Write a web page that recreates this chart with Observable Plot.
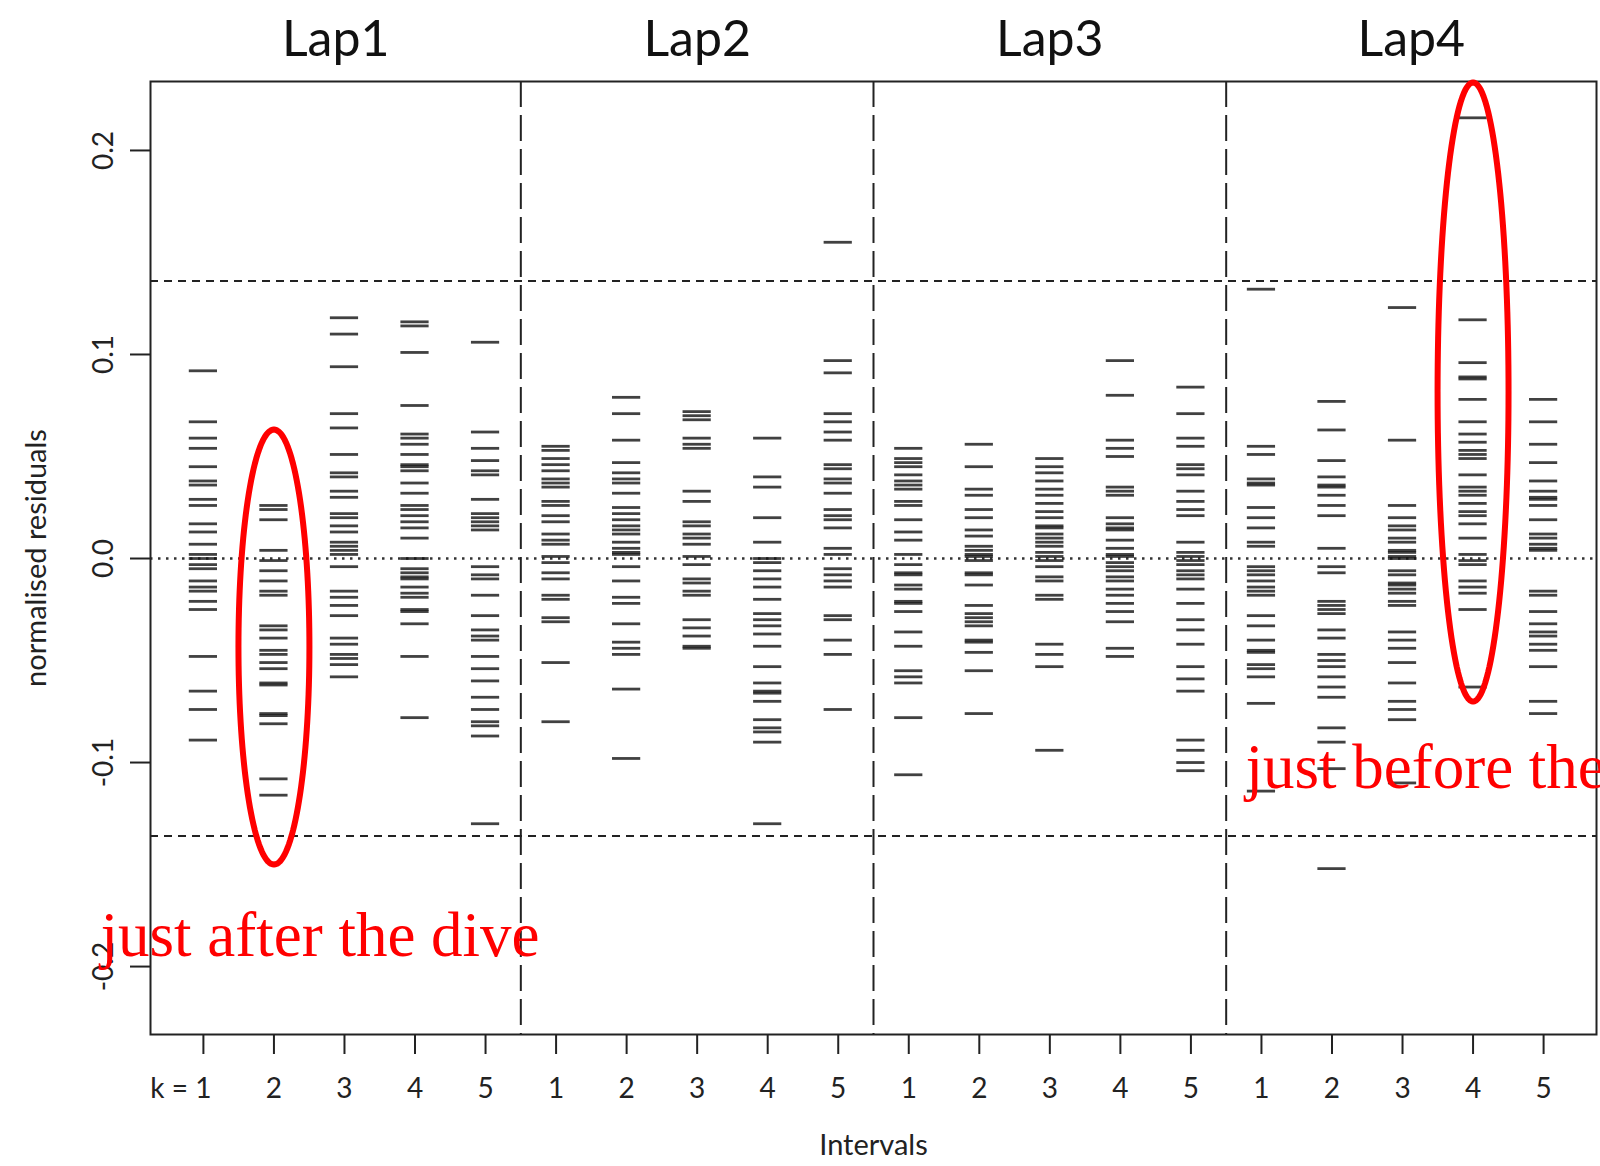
<!DOCTYPE html>
<html><head><meta charset="utf-8">
<script src="https://cdn.jsdelivr.net/npm/d3@7"></script>
<script src="https://cdn.jsdelivr.net/npm/@observablehq/plot@0.6"></script>
<style>html,body{margin:0;padding:0;background:#fff;overflow:hidden}</style>
</head><body><div id="chart"></div><script>
// normalised residuals per lap / interval k
const L1k1 = [0.092, 0.067, 0.059, 0.054, 0.045, 0.038, 0.036, 0.029, 0.026, 0.017, 0.013, 0.007, 0.002, 0.000, -0.003, -0.005, -0.011, -0.014, -0.016, -0.021, -0.025, -0.048, -0.065, -0.074, -0.089];
const L1k2 = [0.026, 0.024, 0.019, 0.004, -0.001, -0.006, -0.011, -0.016, -0.018, -0.033, -0.035, -0.039, -0.045, -0.047, -0.051, -0.054, -0.061, -0.062, -0.076, -0.077, -0.081, -0.108, -0.116];
const L1k3 = [0.118, 0.110, 0.094, 0.071, 0.064, 0.051, 0.042, 0.040, 0.033, 0.030, 0.022, 0.020, 0.016, 0.013, 0.008, 0.006, 0.004, 0.002, -0.004, -0.016, -0.019, -0.023, -0.028, -0.039, -0.042, -0.047, -0.049, -0.052, -0.058];
const L1k4 = [0.116, 0.114, 0.101, 0.075, 0.061, 0.059, 0.056, 0.051, 0.046, 0.045, 0.043, 0.037, 0.032, 0.026, 0.024, 0.021, 0.018, 0.015, 0.010, 0.000, -0.005, -0.007, -0.009, -0.010, -0.014, -0.017, -0.019, -0.025, -0.026, -0.032, -0.048, -0.078];
const L1k5 = [0.106, 0.062, 0.054, 0.048, 0.043, 0.041, 0.029, 0.022, 0.020, 0.018, 0.016, 0.014, -0.004, -0.008, -0.010, -0.018, -0.028, -0.035, -0.038, -0.040, -0.048, -0.054, -0.060, -0.068, -0.074, -0.080, -0.082, -0.087, -0.130];
const L2k1 = [0.055, 0.053, 0.049, 0.046, 0.043, 0.039, 0.037, 0.035, 0.028, 0.026, 0.021, 0.018, 0.012, 0.009, 0.007, 0.001, -0.002, -0.007, -0.010, -0.018, -0.020, -0.029, -0.031, -0.051, -0.080];
const L2k2 = [0.079, 0.071, 0.058, 0.047, 0.042, 0.039, 0.037, 0.032, 0.025, 0.022, 0.019, 0.016, 0.014, 0.012, 0.008, 0.005, 0.003, 0.002, -0.004, -0.011, -0.019, -0.022, -0.032, -0.041, -0.044, -0.047, -0.064, -0.098];
const L2k3 = [0.072, 0.070, 0.068, 0.059, 0.056, 0.054, 0.033, 0.028, 0.018, 0.016, 0.012, 0.010, 0.007, 0.001, -0.003, -0.010, -0.012, -0.016, -0.018, -0.030, -0.034, -0.038, -0.043, -0.044];
const L2k4 = [0.059, 0.040, 0.035, 0.020, 0.008, 0.000, -0.002, -0.006, -0.010, -0.014, -0.020, -0.027, -0.030, -0.033, -0.037, -0.043, -0.053, -0.061, -0.065, -0.066, -0.070, -0.079, -0.083, -0.085, -0.090, -0.130];
const L2k5 = [0.155, 0.097, 0.091, 0.071, 0.067, 0.062, 0.058, 0.046, 0.044, 0.039, 0.037, 0.032, 0.024, 0.021, 0.019, 0.015, 0.005, 0.002, -0.005, -0.008, -0.011, -0.014, -0.028, -0.030, -0.040, -0.047, -0.074];
const L3k1 = [0.054, 0.049, 0.047, 0.045, 0.041, 0.038, 0.036, 0.034, 0.028, 0.026, 0.019, 0.013, 0.009, 0.002, -0.003, -0.007, -0.008, -0.013, -0.015, -0.021, -0.022, -0.026, -0.036, -0.043, -0.055, -0.058, -0.061, -0.078, -0.106];
const L3k2 = [0.056, 0.045, 0.034, 0.031, 0.024, 0.020, 0.014, 0.011, 0.006, 0.004, 0.002, 0.001, -0.001, -0.007, -0.008, -0.013, -0.023, -0.027, -0.029, -0.031, -0.033, -0.040, -0.041, -0.046, -0.055, -0.076];
const L3k3 = [0.049, 0.045, 0.042, 0.038, 0.034, 0.031, 0.027, 0.023, 0.020, 0.016, 0.015, 0.012, 0.010, 0.008, 0.006, 0.003, 0.001, -0.001, -0.004, -0.009, -0.011, -0.018, -0.020, -0.042, -0.047, -0.053, -0.094];
const L3k4 = [0.097, 0.080, 0.058, 0.054, 0.050, 0.035, 0.033, 0.031, 0.020, 0.017, 0.015, 0.014, 0.009, 0.005, 0.002, 0.001, -0.002, -0.004, -0.006, -0.009, -0.011, -0.015, -0.018, -0.022, -0.026, -0.031, -0.044, -0.048];
const L3k5 = [0.084, 0.071, 0.059, 0.055, 0.046, 0.044, 0.041, 0.033, 0.028, 0.024, 0.021, 0.008, 0.003, 0.001, -0.001, -0.003, -0.006, -0.008, -0.010, -0.015, -0.022, -0.030, -0.035, -0.042, -0.053, -0.059, -0.065, -0.089, -0.094, -0.100, -0.104];
const L4k1 = [0.132, 0.055, 0.051, 0.039, 0.037, 0.036, 0.025, 0.020, 0.015, 0.008, 0.006, -0.004, -0.006, -0.008, -0.011, -0.014, -0.016, -0.018, -0.028, -0.033, -0.040, -0.045, -0.046, -0.052, -0.054, -0.058, -0.071, -0.114];
const L4k2 = [0.077, 0.063, 0.048, 0.040, 0.036, 0.035, 0.031, 0.026, 0.021, 0.005, -0.004, -0.007, -0.021, -0.023, -0.025, -0.027, -0.035, -0.039, -0.047, -0.050, -0.053, -0.058, -0.063, -0.068, -0.083, -0.090, -0.103, -0.152];
const L4k3 = [0.123, 0.058, 0.026, 0.020, 0.016, 0.014, 0.010, 0.008, 0.004, 0.003, 0.001, 0.000, -0.006, -0.008, -0.012, -0.013, -0.015, -0.017, -0.021, -0.023, -0.036, -0.040, -0.044, -0.051, -0.061, -0.070, -0.074, -0.079, -0.110];
const L4k4 = [0.216, 0.117, 0.096, 0.089, 0.088, 0.078, 0.067, 0.061, 0.057, 0.053, 0.051, 0.049, 0.041, 0.035, 0.033, 0.031, 0.027, 0.023, 0.021, 0.017, 0.010, 0.002, -0.001, -0.003, -0.011, -0.014, -0.017, -0.025, -0.063];
const L4k5 = [0.078, 0.067, 0.056, 0.047, 0.038, 0.033, 0.030, 0.029, 0.026, 0.019, 0.012, 0.010, 0.007, 0.005, 0.004, -0.016, -0.018, -0.026, -0.032, -0.036, -0.038, -0.042, -0.045, -0.053, -0.070, -0.076];

const laps = ["Lap1", "Lap2", "Lap3", "Lap4"];
const intervals = [1, 2, 3, 4, 5];
const yTickValues = [-0.2, -0.1, 0.0, 0.1, 0.2];
const thresholds = [-0.136, 0.136];
const highlights = [ // circled columns: lap, k, centre residual, half-height
  {lap: 1, k: 2, center: -0.0434, half: 0.1066},
  {lap: 4, k: 4, center: 0.0816, half: 0.1517}
];

const series = [L1k1, L1k2, L1k3, L1k4, L1k5, L2k1, L2k2, L2k3, L2k4, L2k5,
                L3k1, L3k2, L3k3, L3k4, L3k5, L4k1, L4k2, L4k3, L4k4, L4k5];
const rows = [];
series.forEach((vals, i) => vals.forEach(v => rows.push({col: i + 1, lap: laps[Math.floor(i / 5)], k: intervals[i % 5], value: v})));
const columns = series.map((_, i) => i + 1);
const xDomain = [0.25, 20.75];
const separators = [1, 2, 3].map(j => j * intervals.length + 0.5);
const edges = [xDomain[0], ...separators, xDomain[1]];
const lapCenters = laps.map((_, i) => (edges[i] + edges[i + 1]) / 2);

const ellipsePts = highlights.flatMap((h, j) => d3.range(0, 145).map(t => {
  const a = t / 144 * 2 * Math.PI;
  return {id: j, x: (h.lap - 1) * 5 + h.k + 0.503 * Math.cos(a), y: h.center + h.half * Math.sin(a)};
}));

const chart = Plot.plot({
  width: 1600, height: 1166,
  marginLeft: 150, marginRight: 4, marginTop: 81, marginBottom: 132,
  style: {fontFamily: "Lato", background: "#fff", overflow: "hidden"},
  x: {domain: xDomain},
  y: {domain: [-0.2333, 0.2338]},
  marks: [
    Plot.ruleY(thresholds, {stroke: "#222", strokeWidth: 2, strokeDasharray: "8,6"}),
    Plot.ruleY([0], {stroke: "#333", strokeWidth: 2.5, strokeDasharray: "2.5,5.5"}),
    Plot.ruleX(separators, {stroke: "#222", strokeWidth: 2, strokeDasharray: "26,8"}),
    Plot.ruleY(rows, {y: "value", x1: d => d.col - 0.2, x2: d => d.col + 0.2, stroke: "#111", strokeWidth: 2.8, strokeOpacity: 0.8}),
    Plot.frame({stroke: "#222", strokeWidth: 2}),
    Plot.axisY(yTickValues, {tickSize: 20, tickFormat: () => "", label: null, stroke: "#222", strokeWidth: 2}),
    Plot.axisX(columns, {tickSize: 20, tickFormat: () => "", label: null, stroke: "#222", strokeWidth: 2}),
    Plot.text(yTickValues, {y: d => d, text: d => d.toFixed(1), frameAnchor: "left", dx: -46, rotate: -90, textAnchor: "middle", lineAnchor: "middle", fontSize: 28, fill: "#222"}),
    Plot.text(columns.slice(1), {x: d => d, text: d => String(intervals[(d - 1) % 5]), frameAnchor: "bottom", dy: 55, lineAnchor: "middle", textAnchor: "middle", fontSize: 28, fill: "#222"}),
    Plot.text(["k = 1"], {x: columns[0], frameAnchor: "bottom", dy: 55, dx: 8, lineAnchor: "middle", textAnchor: "end", fontSize: 28, fill: "#222"}),
    Plot.text(laps, {x: (d, i) => lapCenters[i], frameAnchor: "top", dy: -26, lineAnchor: "bottom", textAnchor: "middle", fontSize: 50, fill: "#111"}),
    Plot.text(["Intervals"], {frameAnchor: "bottom", dy: 111, lineAnchor: "middle", textAnchor: "middle", fontSize: 29, fill: "#222"}),
    Plot.text(["normalised residuals"], {frameAnchor: "left", dx: -114, rotate: -90, textAnchor: "middle", lineAnchor: "middle", fontSize: 29, fill: "#222"}),
    Plot.line(ellipsePts, {x: "x", y: "y", z: "id", stroke: "#ff0000", strokeWidth: 6}),
    Plot.text(["just after the dive"], {x: -0.459, y: -0.1946, textAnchor: "start", lineAnchor: "bottom", fontFamily: "Liberation Serif", fontSize: 63, fill: "#ff0000"}),
    Plot.text(["just before the"], {x: 15.773, y: -0.1127, textAnchor: "start", lineAnchor: "bottom", fontFamily: "Liberation Serif", fontSize: 63, fill: "#ff0000"})
  ]
});
document.getElementById("chart").appendChild(chart);
</script></body></html>
